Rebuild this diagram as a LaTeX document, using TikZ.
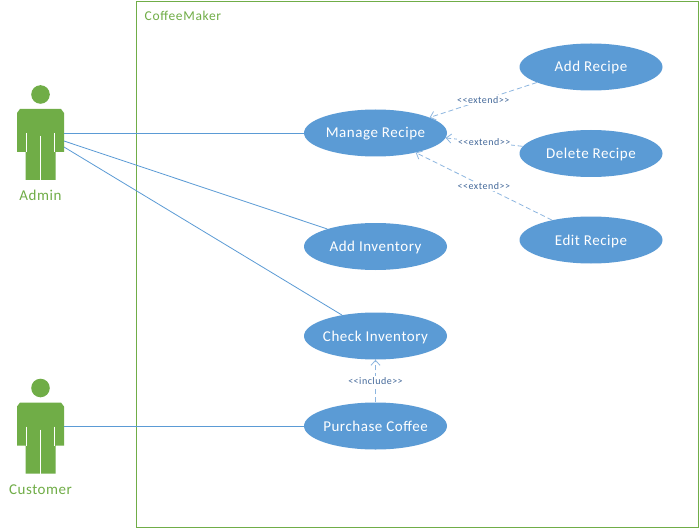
\documentclass[tikz,border=0pt]{standalone}
\usepackage{fontspec}
\setmainfont{Carlito}
\newfontfamily\spaced[LetterSpace=3.6]{Carlito}
\newfontfamily\spacedtitle[LetterSpace=5]{Carlito}
\newfontfamily\spacedlabel[LetterSpace=5]{Carlito}
\usetikzlibrary{shapes.geometric,arrows.meta}
\definecolor{ucblue}{HTML}{5B9BD5}
\definecolor{ucgreen}{HTML}{70AD47}
\definecolor{dashblue}{HTML}{8DB6E0}
\definecolor{labelblue}{HTML}{44699A}
\newcommand{\guil}[1]{{<}{<}#1{>}{>}}
\tikzset{
  usecase/.style={ellipse,fill=ucblue,text=white,minimum width=143pt,minimum height=47pt,inner xsep=-8pt,inner ysep=0pt,text height=12pt,text depth=2pt,font=\spaced\fontsize{15}{17}\selectfont},
  assoc/.style={draw=ucblue,line width=0.8pt},
  dep/.style={draw=dashblue,line width=0.8pt,dash pattern=on 5pt off 3pt,-{Straight Barb[length=5pt,width=9pt,line width=0.8pt]}},
  deplabel/.style={fill=white,inner sep=1pt,text=labelblue,font=\spacedlabel\fontsize{10}{11}\selectfont},
  actorlabel/.style={text=ucgreen,font=\spaced\fontsize{15}{17}\selectfont,inner sep=0pt},
  framelabel/.style={text=ucgreen,font=\spacedtitle\fontsize{13.5}{15}\selectfont,inner sep=0pt,anchor=west},
  pics/actor/.style={code={
    \fill[ucgreen] (0,-49.5) circle (9.3);
    \fill[ucgreen] (-23.5,-31) -- (-20.5,-35) -- (20.5,-35) -- (23.5,-31) -- (23.5,8) -- (15,8)
      -- (15,36) -- (-15,36) -- (-15,8) -- (-23.5,8) -- cycle;
    \draw[white,line width=0.9pt] (-14.2,-11) -- (-14.2,8.5) (14.2,-11) -- (14.2,8.5) (0,-8) -- (0,36.5);
  }}
}
\begin{document}
\begin{tikzpicture}[x=1pt,y=-1pt]
\useasboundingbox (0,0) rectangle (700,529);
\fill[white] (0,0) rectangle (700,529);
\draw[ucgreen,line width=0.9pt] (136.5,1.5) rectangle (698.5,527.5);
\node[framelabel] (title) at (144.5,16) {CoffeeMaker};

\pic at (40.5,144) {actor};
\pic at (40.5,437.5) {actor};
\node[actorlabel] (admin) at (40.5,195.5) {Admin};
\node[actorlabel] (customer) at (40.5,489.5) {Customer};
\coordinate (adminA) at (64,133);
\coordinate (adminB) at (64,141);
\coordinate (adminC) at (64,147);
\coordinate (customerA) at (64,426);

\node[usecase] (manage) at (375.5,133) {Manage Recipe};
\node[usecase] (addinv) at (375.5,246.5) {Add Inventory};
\node[usecase] (check) at (375.5,336) {Check Inventory};
\node[usecase] (purchase) at (375.5,426) {Purchase Coffee};
\node[usecase] (addrec) at (591,67) {Add Recipe};
\node[usecase] (delrec) at (591,153.5) {Delete Recipe};
\node[usecase] (editrec) at (591,240) {Edit Recipe};

\draw[assoc] (adminA) -- (manage.west);
\draw[assoc] (adminB) -- (addinv.160.7);
\draw[assoc] (adminC) -- (check.148.3);
\draw[assoc] (customerA) -- (purchase.west);

\draw[dep] (addrec.196.8) -- (manage.16.8) node[deplabel,pos=0.5] {\guil{extend}};
\draw[dep] (delrec.174.7) -- (manage.-4) node[deplabel,midway] {\guil{extend}};
\draw[dep] (editrec.153) -- (manage.-26.6) node[deplabel,pos=0.5] {\guil{extend}};
\draw[dep] (purchase.north) -- (check.south) node[deplabel,midway] {\guil{include}};
\end{tikzpicture}
\end{document}
